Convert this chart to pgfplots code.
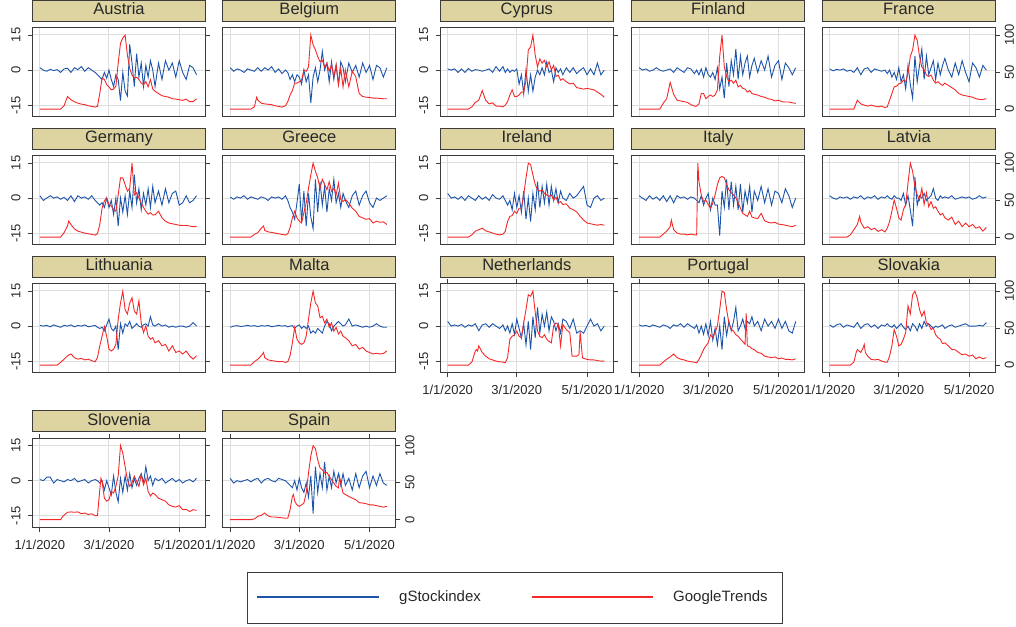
\documentclass[border=0pt]{standalone}
\usepackage{pgfplots}
\pgfplotsset{compat=1.18}
\usepackage{pgfplotstable}
\usepackage{fontspec}
\setmainfont{Liberation Sans}

\definecolor{stockblue}{RGB}{28,84,170}
\definecolor{trendred}{RGB}{245,40,40}
\definecolor{stripfill}{RGB}{221,212,161}
\definecolor{framecol}{RGB}{60,60,60}
\definecolor{gridcol}{RGB}{222,222,222}
\definecolor{textcol}{RGB}{40,40,40}

% d = days since 1/1/2020, s = gStockindex (left axis), t = GoogleTrends (right axis)
\pgfplotstableread{
d s t
0 1 0
3 0 0
6 -0.5 0
9 0.3 0
12 -0.2 0
15 0.2 0
18 -1 0
21 0.5 4.5
24 0.8 17
27 -1 12.6
30 1 10
33 0.2 8
36 1.5 6.7
39 -0.5 6
42 1 4.5
45 0 3.6
48 -1 2.7
50 -2 3.6
52 -3 21
54 -4 42
56 -1 40
58 -3.5 33
60 0 30
62 -4 26
64 -7 27
66 -2 31
68 -4 62
70 -13 89
72 -1 96
74 -9 100
76 -11 73
78 11 55
80 3 46
82 -7 42
84 7 43
86 -3 40
88 3 35
90 -7 33
92 2 37
94 -3 30
96 4 40
98 0 27
100 -7 24
103 3 21
106 -4 18
109 4 17
112 0 16
115 3 14
118 -3 13.5
121 4 12.6
124 -1 11.7
127 -4 13.5
130 2 10
133 1 10
136 -2 14
}\tAustria

\pgfplotstableread{
d s t
0 1 0
3 -0.5 0
6 0.5 0
9 0 0
12 -1 0
15 0.5 0
18 0 0
21 -0.5 3
23 nan 16
24 1 12
27 -0.5 8
30 1 7
33 0 6.5
36 1.5 6
39 -1 4.5
42 0.5 3.6
45 -1.5 2.7
48 0 4.5
50 -1 10
52 -4 19
54 -2 25
56 -5 35
58 -2 35
60 -3 37
62 -6 39
64 0 53
66 -5 51
68 -2 57
70 -14 100
72 -3 87
74 1 80
76 -5 71
78 0 64
80 8 66
82 0 57
84 3 62
86 -5 51
88 3.5 60
90 -4 44
92 2 60
94 -6 33
96 3.5 55
98 1 30
100 -5 53
103 3 30
106 -1 51
109 2 44
112 -3 21
115 3 17
118 -1 16
121 2 15.8
124 -4 14.8
127 2 14.8
130 1 14.4
133 -3 14
136 1 14
}\tBelgium

\pgfplotstableread{
d s t
0 0.5 0
3 0 0
6 0.5 0
9 -1 0
12 0.5 0
15 -1 0
18 0.7 0
21 -0.5 3
24 0.2 9
27 0 12
30 -0.5 25
33 0 12
36 0.5 7
39 -1 8.5
42 1.5 4
45 -0.5 4
48 1.5 3
50 -1 5.4
52 0.5 10
54 -1 19
56 0 26
58 -0.5 17
60 0.5 17
62 -6 19
64 -2 23
66 -10 23
68 0 39
70 -9 80
72 -2 84
74 -9 100
76 -3 73
78 0 57
80 -2 68
82 1 62
84 -2 66
86 3.5 57
88 -1 64
90 0 53
92 -5 59
94 1 44
96 -1 46
98 0.5 39
100 -2 41
103 1 37
106 -1 34
109 1 35
112 -1.5 29
115 0 28
118 1 27
121 -2 28
124 0.5 27
127 -2 26
130 3 23
133 -2 20
136 0 16
}\tCyprus

\pgfplotstableread{
d s t
0 1 0
3 0 0
6 0.5 0
9 -0.5 0
12 0 0
15 1 0
18 0 0
21 -0.5 8
24 0 14
27 0.5 36
30 -1 20
33 1 12
36 0 11
39 -1 10
42 1 9
45 0.5 6
48 -1.5 4
50 0 4
52 -2 7
54 0.5 21
56 -3 21
58 1 14
60 -2 17
62 -3 19
64 -1 17
66 -4 19
68 1 26
70 -8 71
72 -3 100
74 -12 57
76 3 44
78 -7 37
80 4 39
82 -2 35
84 9 39
86 -4 30
88 6 32
90 -2 28
92 3 27
94 6 23
96 -3 25
98 2 21
100 5 20
103 -1 19
106 4 17
109 0 16
112 6 14
115 -3 13
118 2 11
121 4 12
124 -4 10
127 3 9.5
130 1 9.5
133 -2 8.5
136 1 7.7
}\tFinland

\pgfplotstableread{
d s t
0 0.5 0
3 -0.3 0
6 0.3 0
9 0 0
12 0.5 0
15 -0.5 0
18 0 0
21 -1 0
24 1 12
27 -2 7
30 0.5 5.4
33 1 4
36 -1 5.4
39 0.5 4
42 0 3
45 -0.5 4
48 0 2
50 -1.5 3
52 0 12
54 -3 21
56 -1 30
58 -4 31
60 1 34
62 -5 35
64 -2 39
66 -8 37
68 2 48
70 -6 71
72 -12 80
74 6 100
76 -5 93
78 2 71
80 9 57
82 -4 53
84 6 46
86 -2 44
88 1 46
90 4 39
92 -4 35
94 3 37
96 -2 34
98 2 32
100 5 35
103 0 32
106 -3 29
109 3 26
112 -2 21
115 4 19
118 -1 18
121 -5 17
124 3 16
127 1 14
130 -3 13
133 2 13
136 0 14
}\tFrance

\pgfplotstableread{
d s t
0 1 0
3 -1 0
6 0 0
9 1 0
12 0 0
15 0.5 0
18 -0.5 0
21 0.3 6
24 -1 15
25 nan 21.5
27 1 17
30 -1.5 11
33 1 8
36 0 6.7
39 0.5 5.4
42 -0.5 4.5
45 1 3.6
48 -1 2.7
50 -2 4.5
52 -3 17
54 -2 39
56 -4 49
58 0 53
60 -4 44
62 -1 42
64 -7 37
66 0 35
68 -12 57
70 0 80
72 -6 80
74 1 71
76 -7 62
78 3 66
80 -4 100
82 10 57
84 -2 60
86 4 53
88 -5 46
90 2 40
92 -3 35
94 4 31
96 -4 33
98 5 30
100 -2 30
103 3 35
106 -3 26
109 4 21.5
112 -2 19
115 2 18
118 3 17
121 -3 16
124 -2 15.7
127 1 15.7
130 -2 15
133 -1 14
136 1 14.4
}\tGermany

\pgfplotstableread{
d s t
0 0.5 0
3 -0.5 0
6 0.5 0
9 0 0
12 1 0
15 -0.5 0
18 0.5 0
21 0 3.6
24 -0.5 6
27 0.5 12
29 nan 15
30 0 9
33 -1 7
36 0.5 6.3
39 0 5.4
42 0.5 4.5
45 -0.5 3.6
48 1 2.7
50 -1 4.5
52 -4 12.6
54 -6 26
56 -9 35
58 -2 26
60 6 21.5
62 -10 19
64 3 33
66 -12 46
68 2 66
70 -8 84
72 -13 100
74 8 89
76 -6 80
78 7 66
80 -3 78
82 5 71
84 -6 64
86 4 75
88 -1 62
90 8 66
92 -2 57
94 2 73
96 -4 51
98 2 48
100 -1 51
103 -4 46
106 1 39
109 3 35
112 -3 28
115 1 26
118 3 24
121 -2 25
124 -4 19
127 0 21.5
130 -1 20
133 0 20.6
136 1 17
}\tGreece

\pgfplotstableread{
d s t
0 2 0
3 0 0
6 0.5 0
9 -0.5 0
12 0.7 0
15 -1 0
18 1 0
21 0 3
24 -1 8
27 1 10
30 -0.5 12
33 0.5 8.5
36 -1 7
39 1.5 5.4
42 0 4
45 -0.5 3
48 1 4
50 -1 7.7
52 -3 21
54 -1 28
56 -5 29
58 2 35
60 -4 32
62 1 39
64 -6 39
66 3 57
68 -9 80
70 0 100
72 -10 98
74 2 84
76 -5 71
78 7 64
80 -4 62
82 5 64
84 -2 59
86 6 57
88 -3 55
90 5 57
92 -1 50
94 4 54
96 -2 46
98 3 48
100 0 44
103 -1 45
106 2 39
109 0 37
112 1 34
115 3 28
118 5 23
121 -3 19
124 -4 18
127 0 17
130 1 16
133 -1 17
136 0 16
}\tIreland

\pgfplotstableread{
d s t
0 1 0
3 0 0
6 -1 0
9 1 0
12 -0.5 0
15 0.5 0
18 -1 0
21 1 4
24 -1.5 8
27 1 14
28 nan 23
30 -2 10
33 1 5.4
36 0 4
39 0.5 4
42 -0.5 3
45 0.5 4
48 0 3
50 -1 3
51 nan 100
52 -2 75
54 1 57
56 -3 48
58 0 50
60 2 44
62 -5 39
64 0 46
66 -3 57
68 -3 71
70 -16 80
72 3 82
74 -4 80
76 8 71
78 -5 64
80 7 60
82 -3 57
84 5 53
86 -5 46
88 6 39
90 -6 32
92 3 30
94 -2 28
96 5 35
98 -6 27
100 3 26
103 -1 25
106 5 32
109 -2 22
112 4 20
115 -3 19
118 3 20
121 2 17.5
124 -2 17
127 4 16
130 1 15
133 -4 14
136 0 16
}\tItaly

\pgfplotstableread{
d s t
0 1 0
3 0 0
6 -0.5 0
9 0.5 0
12 0 0
15 0.5 0
18 -0.5 3
21 0.5 10
24 0 17
26 nan 28
27 1 20
30 -0.5 12
33 0.5 14
36 0 10
39 1 12
42 -0.5 7.7
45 0.5 10
48 0 7
50 1 12
52 0 21
54 -0.5 35
56 1 50
58 0 39
60 0 26
62 -1 23
64 2 37
66 -3 44
68 1 73
70 -5 100
72 -12 89
74 9 68
76 -3 57
78 1 50
80 0 66
82 2 44
84 -1 60
86 0 41
88 1 48
90 4 39
92 0 41
94 -1 35
96 1 30
98 0 32
100 0.5 26
103 0 23
106 1 27
109 -0.5 17
112 0 21.5
115 0.5 14
118 0 19
121 0.5 14
124 -0.5 17
127 0 12
130 1 14
133 0 8
136 0.5 13
}\tLatvia

\pgfplotstableread{
d s t
0 0.3 0
3 0 0
6 0.3 0
9 -0.3 0
12 0.5 0
15 0 0
18 -0.5 3.6
21 0.3 8
24 0 12.6
27 0.5 15
30 -0.3 10
33 0.3 8
36 0 9
39 0.5 7
42 -0.3 8
45 0 6
48 0.3 4.5
50 -0.5 10
52 -1 26
54 -0.5 39
56 -2 52
58 0.5 39
60 3 21.5
62 -1 19
64 -2 21.5
66 0 28
68 -10 62
70 1 84
72 -3 100
74 1 75
76 0 69
78 2 84
80 -1 91
82 0 73
84 1 69
86 0 87
88 -0.5 57
90 0.5 44
92 1 53
94 0 39
96 4 35
98 0.5 37
100 0 30
103 1 33
106 0 26
109 0.5 28
112 -0.5 19
115 0 26
118 -0.5 17
121 0 19
124 0 15
127 -0.5 19
130 0 12.6
133 1.5 8
136 0 12.6
}\tLithuania

\pgfplotstableread{
d s t
0 -0.5 0
3 0 0
6 0.2 0
9 -0.2 0
12 0 0
15 0.3 0
18 0 0
21 0.2 4.5
24 -0.2 8
27 0.2 12.6
29 nan 17
30 0 10
33 0.3 7
36 -0.3 6
39 0 5.4
42 0.3 4.5
45 0 5
48 0.2 3.6
50 -0.3 4.5
52 0 12.6
54 0.2 30
56 -1 51
58 0 35
60 0.5 30
62 -1 28
64 0 30
66 -1 39
68 0 62
70 -3 84
72 -2 100
74 -3 84
76 -1 80
78 -2 64
80 -3 66
82 0 57
84 2 62
86 1 51
88 -2 57
90 0 46
92 1 51
94 2 42
96 1 46
98 0 39
100 0.5 37
103 3 33
106 0 26
109 0.5 28
112 0 21.5
115 -0.5 24
118 0 19
121 -0.5 17
124 0 15
127 1 16
130 0 15
133 -0.5 15.7
136 -0.5 19
}\tMalta

\pgfplotstableread{
d s t
0 2 0
3 0 0
6 0.5 0
9 0 0
12 0.7 0
15 -0.5 0
18 0.5 0
21 0 4
24 1 19
25 nan 21
26 nan 19
27 -2 26
30 0.5 17
33 1 12
36 -0.5 8.5
39 1 7
42 0 5.4
45 -1 4.5
48 0.5 4
50 -2 3
52 0 10
54 -3 35
56 1 39
58 -3.5 41
60 3 46
62 -1 39
64 -5 37
66 1 57
68 -8 75
70 2 95
72 -10 93
74 4 100
76 -5 71
78 8 46
80 -3 39
82 5 37
84 0 41
86 6 35
88 -2 32
90 4 30
92 2 53
94 -2 57
96 1 55
98 -3 26
100 3 55
103 2 48
106 -1 44
108 nan 12
109 3 12
112 -3 12
114 nan 14
115 -2 45
117 nan 10
118 -3 9
121 0 7.7
124 3 7
127 0 7
130 1 6
133 -2 5.4
136 0 5.4
}\tNetherlands

\pgfplotstableread{
d s t
0 0.5 0
3 0 0
6 0.3 0
9 -0.3 0
12 0.5 0
15 0 0
18 -0.5 0
21 0.5 4
24 0 8
27 -1 11
30 0.5 15
33 0 10
36 1 8
39 -0.5 7
42 1 5.4
45 0 4.5
48 -1 4
50 0.5 3
52 -3 7.7
54 0 14
56 -3.5 21
58 1 26
60 -4 30
62 2 41
64 -6 37
66 -1 44
68 -8 53
70 0 75
72 -10 100
74 4 98
76 -4 75
78 2 57
80 -2 48
82 2 46
84 8 41
86 -2 39
88 0 35
90 3 32
92 -1 28
93 nan 70
94 2 26
96 1 25
98 4 22
100 0 21
103 2 17
106 -2 16
109 3 12
112 0 11
115 2 10
118 -1 11
121 3 8.5
124 -1 9.5
127 2 7.7
130 -2 7.7
133 -3 7
136 2 8.5
}\tPortugal

\pgfplotstableread{
d s t
0 0.5 0
3 -0.5 0
6 0.5 0
9 1 0
12 -0.5 0
15 0.5 0
18 0 0
21 -0.5 4
23 nan 17
24 1.5 21
27 -1 17
29 nan 23
30 0.5 28
31 nan 17
33 1 12
36 -0.5 7.7
39 0.5 7
42 -1 7.7
45 0.5 5.4
48 0 4
50 1 4
52 0 12
54 -0.5 26
56 0.5 48
58 -1 39
60 0 26
62 1 28
64 -0.5 35
66 -1.5 44
68 0 80
70 -2 69
72 1 95
74 0 100
76 -2 91
78 1 75
80 -1 66
82 2 73
84 0 57
86 1 55
88 0 48
90 -1 50
92 0 41
94 -0.5 37
96 0 35
98 0.5 29
100 -1 30
103 0 26
106 0.5 21
109 -0.5 20.7
112 0 17
115 0.5 14
118 1 15
121 0 12
124 0 13.5
127 0 8.5
130 0.3 11
133 0 8.5
136 1.5 10
}\tSlovakia

\pgfplotstableread{
d s t
0 0.5 0
3 0 0
6 1.5 0
9 1.5 0
12 -1 0
15 0.5 0
18 0 0
20 nan 4.5
21 -0.5 6
24 0.5 10
27 0 10.5
30 1 10
33 -0.5 10.5
36 0 8
39 0.5 9
42 -1 7
45 0 8
48 0.5 5.4
50 0 5.4
52 -1 40
53 nan 56
54 0 52
56 -4 29
58 0 25
60 -3 27
62 -6 38
64 2 36
66 -5 45
68 -9 59
70 1 100
72 -5 90
74 2 72
76 -4 54
78 3 45
80 -3 50
82 1 59
84 -2 52
86 1 45
88 3 61
90 -1 47
92 6 56
94 0 38
96 2 32
98 -2 36
100 1 34
103 0 29
106 1 27
109 -1 25
112 0 20
115 1 18
118 -0.5 17
121 0.5 19
124 -1 13.5
127 0 14
130 0.5 11
133 -0.5 13.5
136 1 12.6
}\tSlovenia

\pgfplotstableread{
d s t
0 1 0
3 -1 0
6 0 0
9 -0.5 0
12 0 0
15 0.5 0
18 -0.5 0
21 0.5 1
24 1 4.5
27 -1 6
30 0.5 9
33 1 5
36 0 3.6
39 -0.5 3.6
42 1 3
45 0.5 2.5
48 0 2
50 -1 2
52 -2 13.5
54 -3 31.5
55 nan 34
56 0 25
58 -4 20
60 1 18
62 -3 20
64 -5 22.5
66 -1 36
68 -7 63
70 2 86
72 -14 100
74 6 96
76 -5 81
78 3 70
80 -3 67.5
82 8 63
84 -4 64
86 2 58.5
88 -3 54
90 4 49.5
92 -1 45
94 3 43
95 nan 58
96 -2 49.5
98 3 36
100 -2 34
103 1 31.5
106 -4 29
109 3 27
112 -3 23
115 2 22.5
118 4 21.6
121 -3 20
124 2 20
127 -2 19
130 3 18
133 -1 17
136 -2 18
}\tSpain

\tikzset{
  stockline/.style={draw=stockblue, line width=0.9pt},
  trendline/.style={draw=trendred, line width=0.9pt},
  keyline/.style={line width=2pt}}

\pgfplotsset{
  panel/.style={scale only axis, width=173pt, height=89pt, anchor=south west,
    xmin=-6.4, xmax=143.8, xtick={0,60,121}, xticklabels={},
    xtick style={draw=none}, ytick style={draw=none},
    tick align=outside, major tick length=4.5pt,
    axis line style={draw=framecol, line width=0.9pt},
    tick label style={font=\fontsize{13}{13}\selectfont, text=textcol}},
  stockax/.style={panel, ymin=-19.9, ymax=18.1, ytick={-15,0,15}, yticklabels={},
    grid=major, major grid style={gridcol, line width=1pt},
    title style={at={(0.5,1)}, anchor=south, fill=stripfill, draw=framecol,
      line width=0.9pt, minimum width=173pt, minimum height=21pt, inner sep=0pt,
      text height=12pt, text depth=4pt,
      text=textcol, font=\fontsize{16.5}{16.5}\selectfont}},
  trendax/.style={panel, ymin=-10.3, ymax=110, ytick={0,50,100}, yticklabels={}},
  leftlab/.style={yticklabels={-15,0,15}, ytick style={draw=framecol, line width=0.9pt},
    yticklabel style={rotate=90, anchor=south}, yticklabel shift=4pt},
  bottomlab/.style={xticklabels={1/1/2020,3/1/2020,5/1/2020},
    xtick style={draw=framecol, line width=0.9pt}, xticklabel shift=4.5pt},
  rightlab/.style={axis x line=none, axis y line*=right, yticklabels={0,50,100},
    ytick style={draw=framecol, line width=0.9pt},
    yticklabel style={rotate=90, anchor=north}, yticklabel shift=1.5pt},
}

\newcommand\panel[6]{%
  \begin{axis}[stockax, at={(#1pt,#2pt)}, title={#3}, #5]
    \addplot[stockline] table[x=d, y=s] {#4};
  \end{axis}
  \begin{axis}[trendax, at={(#1pt,#2pt)}, #6]
    \addplot[trendline] table[x=d, y=t] {#4};
  \end{axis}}

\begin{document}
\begin{tikzpicture}
\useasboundingbox (0,0) rectangle (1016pt,626pt);

\panel{32.5}{509.3}{Austria}{\tAustria}{leftlab}{hide axis}
\panel{222.8}{509.3}{Belgium}{\tBelgium}{}{hide axis}
\panel{440.3}{509.3}{Cyprus}{\tCyprus}{leftlab}{hide axis}
\panel{631.7}{509.3}{Finland}{\tFinland}{}{hide axis}
\panel{822.3}{509.3}{France}{\tFrance}{}{rightlab}

\panel{32.5}{381.3}{Germany}{\tGermany}{leftlab}{hide axis}
\panel{222.8}{381.3}{Greece}{\tGreece}{}{hide axis}
\panel{440.3}{381.3}{Ireland}{\tIreland}{leftlab}{hide axis}
\panel{631.7}{381.3}{Italy}{\tItaly}{}{hide axis}
\panel{822.3}{381.3}{Latvia}{\tLatvia}{}{rightlab}

\panel{32.5}{253.3}{Lithuania}{\tLithuania}{leftlab}{hide axis}
\panel{222.8}{253.3}{Malta}{\tMalta}{}{hide axis}
\panel{440.3}{253.3}{Netherlands}{\tNetherlands}{leftlab, bottomlab}{hide axis}
\panel{631.7}{253.3}{Portugal}{\tPortugal}{bottomlab}{hide axis}
\panel{822.3}{253.3}{Slovakia}{\tSlovakia}{bottomlab}{rightlab}

\panel{32.5}{98.7}{Slovenia}{\tSlovenia}{leftlab, bottomlab}{hide axis}
\panel{222.8}{98.7}{Spain}{\tSpain}{bottomlab}{rightlab}

% legend box: its axis units are the picture's pixels
\begin{axis}[at={(247pt,3pt)}, anchor=south west, scale only axis,
  width=535pt, height=51pt, xmin=247, xmax=782, ymin=0, ymax=51,
  xtick=\empty, ytick=\empty,
  axis line style={draw=framecol, line width=0.9pt}]
\addplot[stockline, keyline] coordinates {(257,25.5) (379,25.5)};
\addplot[trendline, keyline] coordinates {(532,25.5) (653,25.5)};
\node[anchor=west, inner sep=0pt, text=textcol, font=\fontsize{15}{15}\selectfont]
  at (axis cs:399,25.5) {gStockindex};
\node[anchor=west, inner sep=0pt, text=textcol, font=\fontsize{15}{15}\selectfont]
  at (axis cs:673,25.5) {GoogleTrends};
\end{axis}
\end{tikzpicture}
\end{document}
